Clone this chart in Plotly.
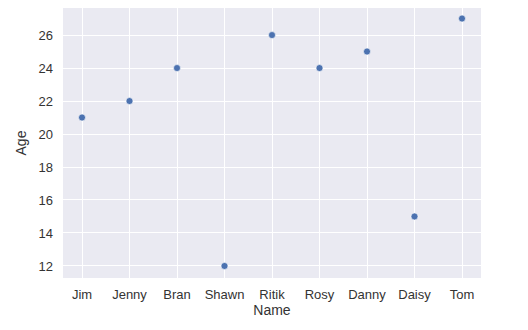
import plotly.graph_objects as go

names = ["Jim", "Jenny", "Bran", "Shawn", "Ritik", "Rosy", "Danny", "Daisy", "Tom"]
ages = [21, 22, 24, 12, 26, 24, 25, 15, 27]
y_ticks = [12, 14, 16, 18, 20, 22, 24, 26]

fig = go.Figure(go.Scatter(
    x=names, y=ages, mode="markers",
    marker=dict(color="#4C72B0", size=7, line=dict(color="white", width=0.6)),
))

font_color = "#333333"
fig.update_layout(
    width=528, height=330,
    margin=dict(l=63, r=47, t=8, b=52),
    paper_bgcolor="white",
    plot_bgcolor="#EAEAF2",
    font=dict(family="Liberation Sans, Arial, sans-serif", size=13, color=font_color),
    showlegend=False,
    xaxis=dict(
        title=dict(text="Name", standoff=3, font=dict(size=14)),
        range=[-0.4, 8.4], showgrid=True, gridcolor="white", gridwidth=1,
        zeroline=False, ticks="", showline=False, ticklabelstandoff=7,
    ),
    yaxis=dict(
        title=dict(text="Age", standoff=8, font=dict(size=14)),
        range=[11.27, 27.64], tickvals=y_ticks, showgrid=True, gridcolor="white",
        gridwidth=1, zeroline=False, ticks="", showline=False, ticklabelstandoff=9,
    ),
)
fig.write_html("out.html")
